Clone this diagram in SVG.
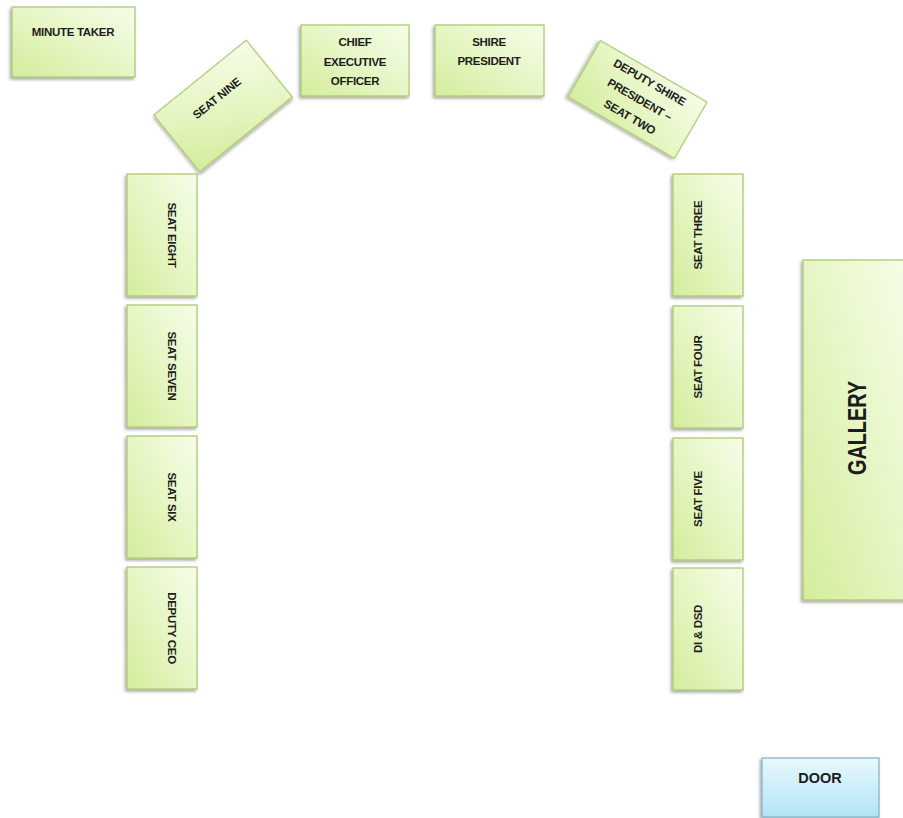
<svg xmlns="http://www.w3.org/2000/svg" width="903" height="818" viewBox="0 0 903 818">
<defs>
<linearGradient id="gg" x1="1" y1="0" x2="0" y2="1">
<stop offset="0" stop-color="#f6fdea"/>
<stop offset="0.5" stop-color="#e6f6c4"/>
<stop offset="1" stop-color="#d3ed9c"/>
</linearGradient>
<linearGradient id="bg" x1="0" y1="0" x2="0" y2="1">
<stop offset="0" stop-color="#e8f8fd"/>
<stop offset="1" stop-color="#b3e3f5"/>
</linearGradient>
<filter id="sh" x="-20%" y="-20%" width="140%" height="140%">
<feDropShadow dx="-1.5" dy="2" stdDeviation="1.5" flood-color="#000" flood-opacity="0.35"/>
</filter>
</defs>
<style>
.g{fill:url(#gg);stroke:#a9c66c;stroke-width:1.2;filter:url(#sh)}
.b{fill:url(#bg);stroke:#7fb3c8;stroke-width:1.2;filter:url(#sh)}
text{font-family:"Liberation Sans",Arial,sans-serif;font-weight:bold;font-size:11.5px;fill:#1c1c1c;text-anchor:middle;dominant-baseline:central;letter-spacing:-0.3px}
</style>
<rect width="903" height="818" fill="#fff"/>
<g id="connectors"/>
<g id="minute-taker"><rect class="g" x="12" y="7" width="123" height="70"/><text x="73" y="32">MINUTE TAKER</text></g>
<g id="seat-nine" transform="translate(223,106) rotate(-39)"><rect class="g" x="-59.5" y="-36.5" width="119" height="73"/><text x="0" y="-10">SEAT NINE</text></g>
<g id="ceo"><rect class="g" x="301" y="25" width="108" height="71"/><text x="355" y="42">CHIEF</text><text x="355" y="62">EXECUTIVE</text><text x="355" y="81">OFFICER</text></g>
<g id="shire-president"><rect class="g" x="435" y="25" width="109" height="71"/><text x="489" y="42">SHIRE</text><text x="489" y="61">PRESIDENT</text></g>
<g id="deputy-shire" transform="translate(637.5,99.5) rotate(30)"><rect class="g" x="-61.5" y="-32.5" width="123" height="65"/><text x="2" y="-21">DEPUTY SHIRE</text><text x="2" y="-1">PRESIDENT –</text><text x="2" y="19">SEAT TWO</text></g>
<g id="seat-eight"><rect class="g" x="127" y="174" width="70" height="122"/><text transform="translate(172,235) rotate(90)">SEAT EIGHT</text></g>
<g id="seat-seven"><rect class="g" x="127" y="305" width="70" height="122"/><text transform="translate(172,366) rotate(90)">SEAT SEVEN</text></g>
<g id="seat-six"><rect class="g" x="127" y="436" width="70" height="122"/><text transform="translate(172,497) rotate(90)">SEAT SIX</text></g>
<g id="deputy-ceo"><rect class="g" x="127" y="567" width="70" height="122"/><text transform="translate(172,628) rotate(90)">DEPUTY CEO</text></g>
<g id="seat-three"><rect class="g" x="673" y="174" width="70" height="122"/><text transform="translate(698,235) rotate(-90)">SEAT THREE</text></g>
<g id="seat-four"><rect class="g" x="673" y="306" width="70" height="122"/><text transform="translate(698,367) rotate(-90)">SEAT FOUR</text></g>
<g id="seat-five"><rect class="g" x="673" y="438" width="70" height="122"/><text transform="translate(698,499) rotate(-90)">SEAT FIVE</text></g>
<g id="di-dsd"><rect class="g" x="673" y="568" width="70" height="122"/><text transform="translate(698,629) rotate(-90)">DI &amp; DSD</text></g>
<g id="gallery"><rect class="g" x="803" y="260" width="110" height="340"/><text transform="translate(857,428) rotate(-90)" style="font-size:25px;letter-spacing:0" textLength="94" lengthAdjust="spacingAndGlyphs">GALLERY</text></g>
<g id="door"><rect class="b" x="762" y="758" width="117" height="59"/><text x="820" y="778" style="font-size:14.5px;letter-spacing:0">DOOR</text></g>
</svg>
